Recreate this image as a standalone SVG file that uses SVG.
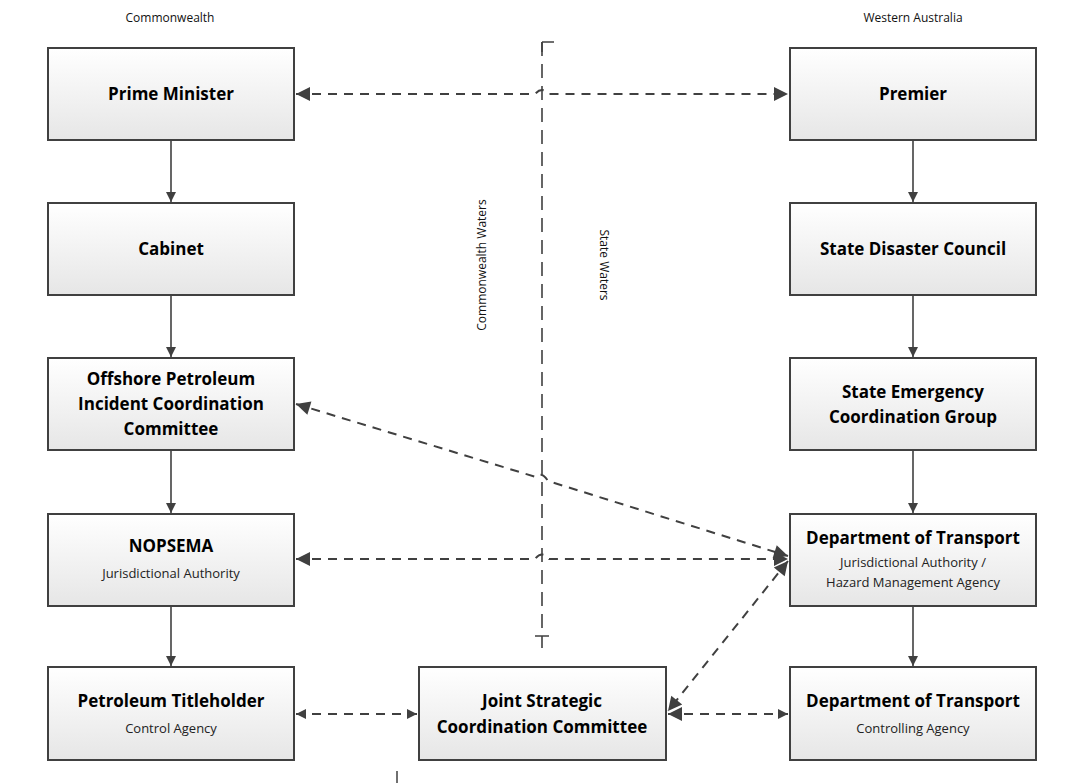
<svg xmlns="http://www.w3.org/2000/svg" width="1080" height="783" viewBox="0 0 1080 783">
<defs>
<linearGradient id="g" x1="0" y1="0" x2="0" y2="1"><stop offset="0" stop-color="#ffffff"/><stop offset="1" stop-color="#e6e6e6"/></linearGradient>
<marker id="a" viewBox="0 0 10 10" refX="10" refY="5" markerWidth="10" markerHeight="10" markerUnits="userSpaceOnUse" orient="auto-start-reverse"><path d="M0,0 L10,5 L0,10 z" fill="#404040"/></marker>
<marker id="b" viewBox="0 0 10 10" refX="10" refY="5" markerWidth="18" markerHeight="14" markerUnits="userSpaceOnUse" orient="auto-start-reverse"><path d="M0,0 L10,5 L0,10 z" fill="#404040"/></marker>
</defs>
<style>
rect{fill:url(#g);stroke:#404040;stroke-width:2}
.t{font-family:"Open Sans","Liberation Sans",sans-serif;font-weight:bold;font-size:17px;fill:#000;text-anchor:middle}
.s{font-family:"Open Sans","Liberation Sans",sans-serif;font-size:13px;fill:#222;text-anchor:middle}
.h{font-family:"Open Sans","Liberation Sans",sans-serif;font-size:12px;fill:#111}
.c{stroke:#404040;stroke-width:1.6;fill:none}
.d{stroke:#404040;stroke-width:2;fill:none;stroke-dasharray:9 7}
</style>
<rect width="1080" height="783" fill="#fff" style="fill:#fff;stroke:none"/>
<text class="h" x="170" y="22" text-anchor="middle">Commonwealth</text>
<text class="h" x="913" y="22" text-anchor="middle">Western Australia</text>
<text class="h" transform="translate(486,265) rotate(-90)" text-anchor="middle">Commonwealth Waters</text>
<text class="h" transform="translate(600,265) rotate(90)" text-anchor="middle">State Waters</text>
<g id="boundary">
<path d="M542,42 V636" stroke="#404040" stroke-width="1.6" stroke-dasharray="14 8" fill="none"/>
<path d="M542,42 V52 M542,42 H554 M535,636 H549 M542,636 V648" stroke="#404040" stroke-width="1.6" fill="none"/>
<path d="M397,771 V783" stroke="#404040" stroke-width="1.5"/>
</g>
<g id="n1"><rect x="48" y="48" width="246" height="92"/><text class="t" x="171" y="100">Prime Minister</text></g>
<g id="n2"><rect x="48" y="203" width="246" height="92"/><text class="t" x="171" y="255">Cabinet</text></g>
<g id="n3"><rect x="48" y="358" width="246" height="92"/><text class="t" x="171" y="385">Offshore Petroleum</text><text class="t" x="171" y="410">Incident Coordination</text><text class="t" x="171" y="435">Committee</text></g>
<g id="n4"><rect x="48" y="514" width="246" height="92"/><text class="t" x="171" y="552">NOPSEMA</text><text class="s" x="171" y="578">Jurisdictional Authority</text></g>
<g id="n5"><rect x="48" y="667" width="246" height="93"/><text class="t" x="171" y="707">Petroleum Titleholder</text><text class="s" x="171" y="733">Control Agency</text></g>
<g id="n6"><rect x="419" y="667" width="247" height="93"/><text class="t" x="542" y="707">Joint Strategic</text><text class="t" x="542" y="733">Coordination Committee</text></g>
<g id="n7"><rect x="790" y="48" width="246" height="92"/><text class="t" x="913" y="100">Premier</text></g>
<g id="n8"><rect x="790" y="203" width="246" height="92"/><text class="t" x="913" y="255">State Disaster Council</text></g>
<g id="n9"><rect x="790" y="358" width="246" height="92"/><text class="t" x="913" y="398">State Emergency</text><text class="t" x="913" y="423">Coordination Group</text></g>
<g id="n10"><rect x="790" y="514" width="246" height="92"/><text class="t" x="913" y="544">Department of Transport</text><text class="s" x="913" y="567">Jurisdictional Authority /</text><text class="s" x="913" y="587">Hazard Management Agency</text></g>
<g id="n11"><rect x="790" y="667" width="246" height="93"/><text class="t" x="913" y="707">Department of Transport</text><text class="s" x="913" y="733">Controlling Agency</text></g>
<g id="connectors">
<path class="c" d="M171,140 V202" marker-end="url(#a)"/>
<path class="c" d="M171,295 V357" marker-end="url(#a)"/>
<path class="c" d="M171,450 V513" marker-end="url(#a)"/>
<path class="c" d="M171,606 V666" marker-end="url(#a)"/>
<path class="c" d="M913,140 V202" marker-end="url(#a)"/>
<path class="c" d="M913,295 V357" marker-end="url(#a)"/>
<path class="c" d="M913,450 V513" marker-end="url(#a)"/>
<path class="c" d="M913,606 V666" marker-end="url(#a)"/>
<path class="d" d="M296,94 H535 Q542,86 549,94 H788" marker-start="url(#b)" marker-end="url(#b)"/>
<path class="d" d="M296,404 L536,477 Q542,471 548,481 L788,556" marker-start="url(#b)" marker-end="url(#b)"/>
<path class="d" d="M296,559 H535 Q542,550 549,559 H788" marker-start="url(#b)" marker-end="url(#b)"/>
<path class="d" d="M788,561 L668,711" marker-start="url(#b)" marker-end="url(#b)"/>
<path class="d" d="M296,714 H417" marker-start="url(#a)" marker-end="url(#a)"/>
<path class="d" d="M668,714 H788" marker-start="url(#b)" marker-end="url(#a)"/>
</g>
</svg>
